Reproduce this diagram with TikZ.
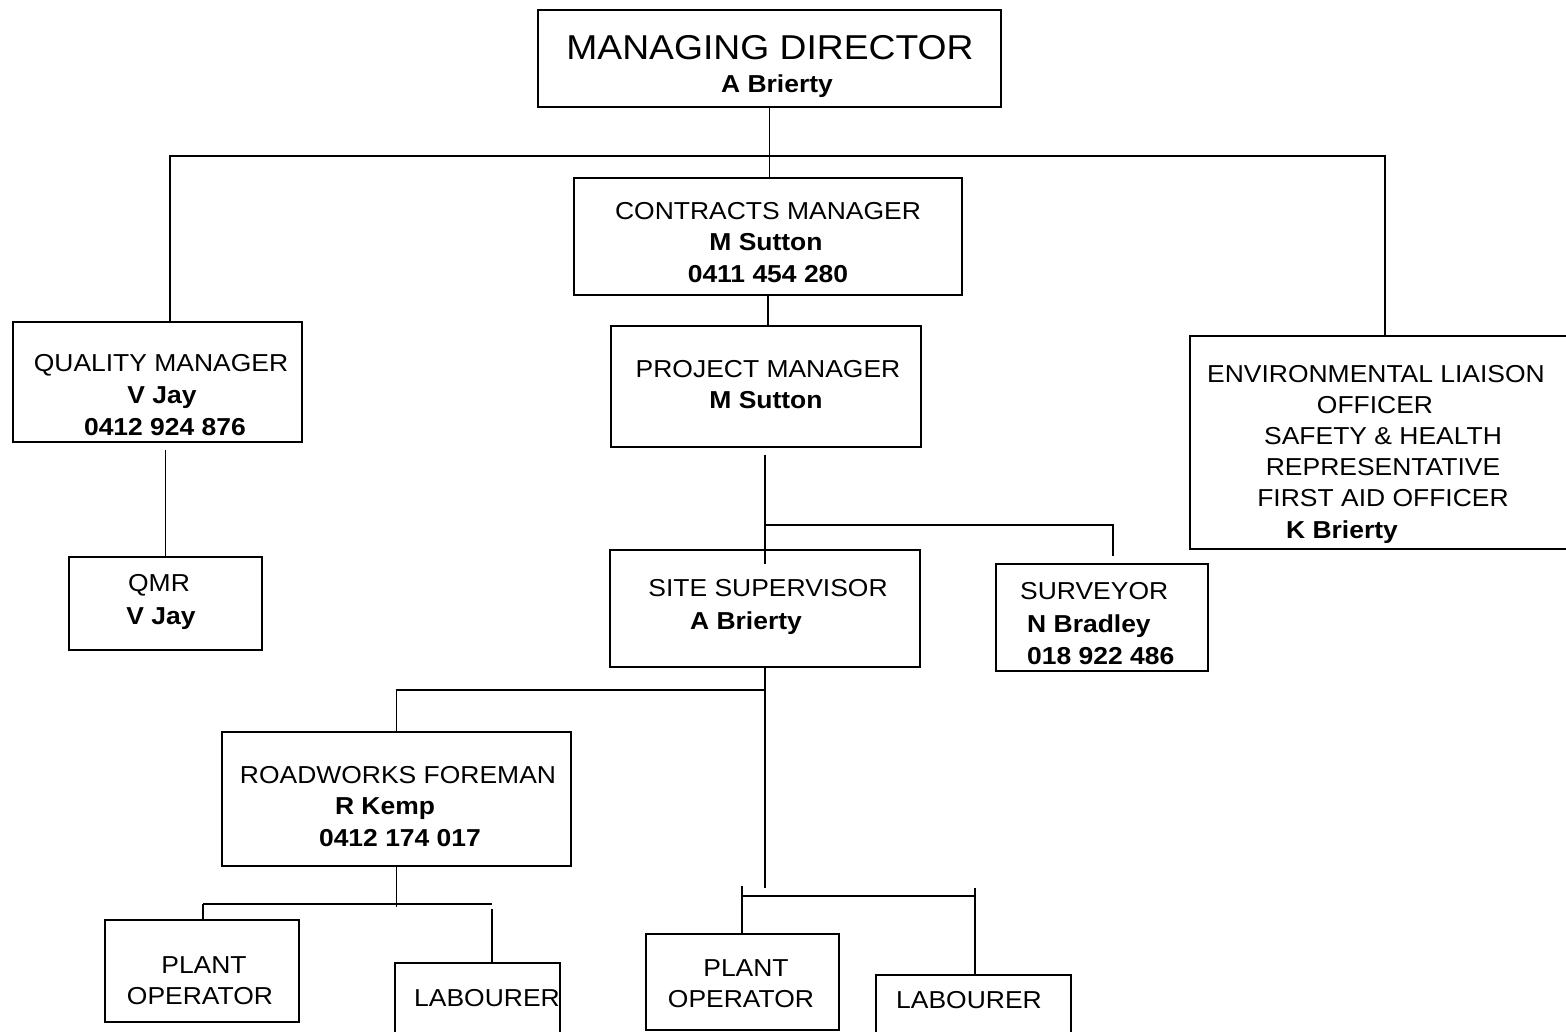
\documentclass[tikz,border=0pt]{standalone}
\usepackage{fontspec}
\setmainfont{Liberation Sans}[FakeStretch=1.08]
\begin{document}
\begin{tikzpicture}[x=1pt,y=-1pt,
  box/.style={draw, line width=1.3pt, rectangle, inner sep=0pt},
  conn/.style={line width=1.3pt},
  tx/.style={anchor=base, inner sep=0pt, font=\fontsize{24.5}{30}\selectfont},
  tb/.style={anchor=base, inner sep=0pt, font=\fontsize{24.5}{30}\selectfont\bfseries},
  txl/.style={tx, anchor=base west},
  tbl/.style={tb, anchor=base west}]
\useasboundingbox (0,0) rectangle (1566,1032);
\fill[white] (0,0) rectangle (1566,1032);
\clip (0,0) rectangle (1566,1032);

% boxes
\node[box, minimum width=463, minimum height=97] (md) at (769.5,58.5) {};
\node[box, minimum width=388, minimum height=117] (cm) at (768,236.5) {};
\node[box, minimum width=310, minimum height=121] (pm) at (766,386.5) {};
\node[box, minimum width=289, minimum height=120] (qm) at (157.5,382) {};
\node[box, minimum width=193, minimum height=93] (qmr) at (165.5,603.5) {};
\node[box, minimum width=390, minimum height=213] (elo) at (1385,442.5) {};
\node[box, minimum width=310, minimum height=117] (ss) at (765,608.5) {};
\node[box, minimum width=212, minimum height=107] (sur) at (1102,617.5) {};
\node[box, minimum width=349, minimum height=134] (rf) at (396.5,799) {};
\node[box, minimum width=194, minimum height=102] (po1) at (202,971) {};
\node[box, minimum width=165, minimum height=82] (lab1) at (477.5,1004) {};
\node[box, minimum width=193, minimum height=96] (po2) at (742.5,982) {};
\node[box, minimum width=195, minimum height=70] (lab2) at (973.5,1010) {};

% texts
\node[anchor=base, inner sep=0pt, font=\fontsize{34.5}{40}\selectfont] (mdt1) at (770,60) {MANAGING DIRECTOR};
\node[tb] (mdt2) at (777,93) {A Brierty};

\node[tx] (cmt1) at (768,220) {CONTRACTS MANAGER};
\node[tb] (cmt2) at (766,251) {M Sutton};
\node[tb] (cmt3) at (768,283) {0411 454 280};

\node[tx] (pmt1) at (768,377) {PROJECT MANAGER};
\node[tb] (pmt2) at (766,408) {M Sutton};

\node[tx] (qmt1) at (161,371) {QUALITY MANAGER};
\node[tb] (qmt2) at (162,403) {V Jay};
\node[tb] (qmt3) at (165,435) {0412 924 876};

\node[tx] (qmrt1) at (159,591) {QMR};
\node[tb] (qmrt2) at (161,624) {V Jay};

\node[tx] (elot1) at (1376,382) {ENVIRONMENTAL LIAISON};
\node[tx] (elot2) at (1375,413) {OFFICER};
\node[tx] (elot3) at (1383,444) {SAFETY \& HEALTH};
\node[tx] (elot4) at (1383,475) {REPRESENTATIVE};
\node[tx] (elot5) at (1383,506) {FIRST AID OFFICER};
\node[tb] (elot6) at (1342,538) {K Brierty};

\node[tx] (sst1) at (768,596) {SITE SUPERVISOR};
\node[tb] (sst2) at (746,629) {A Brierty};

\node[txl] (surt1) at (1020,599) {SURVEYOR};
\node[tbl] (surt2) at (1027,632) {N Bradley};
\node[tbl] (surt3) at (1027,664) {018 922 486};

\node[tx] (rft1) at (398,783) {ROADWORKS FOREMAN};
\node[tb] (rft2) at (385,814) {R Kemp};
\node[tb] (rft3) at (400,846) {0412 174 017};

\node[tx] (po1t1) at (204,973) {PLANT};
\node[tx] (po1t2) at (200,1004) {OPERATOR};
\node[tx] (lab1t) at (487,1006) {LABOURER};
\node[tx] (po2t1) at (746,976) {PLANT};
\node[tx] (po2t2) at (741,1007) {OPERATOR};
\node[tx] (lab2t) at (969,1008) {LABOURER};

% junction coordinates
\coordinate (jl) at (170,156);
\coordinate (jr) at (1385,156);
\coordinate (jb) at (765,525);
\coordinate (jsur) at (1113,525);
\coordinate (jss) at (765,690);
\coordinate (jssb) at (765,888);
\coordinate (jrl) at (203,904);
\coordinate (jrr) at (492,904);
\coordinate (jpl) at (742,896);
\coordinate (jpr) at (975,896);

% connectors
\draw[conn] (md.south) -- (md.south |- cm.north);
\draw[conn] (qm.north -| jl) -- (jl) -- (jr) -- (elo.north);
\draw[conn] (cm.south) -- (cm.south |- pm.north);
\draw[conn, shorten <=7pt] (qm.south -| qmr.north) -- (qmr.north);
\draw[conn, shorten <=7pt, shorten >=-15pt] (pm.south -| ss.north) -- (ss.north);
\draw[conn, shorten >=7pt] (jb) -- (jsur) -- (jsur |- sur.north);
\draw[conn] (ss.south) -- (jss) -- (jss -| rf.north) -- (rf.north);
\draw[conn] (jss) -- (jssb);
\draw[conn, shorten >=-3pt] (rf.south) -- (rf.south |- jrl);
\draw[conn] (jrl) -- (jrr);
\draw[conn] (jrl) -- (jrl |- po1.north);
\draw[conn, shorten <=5pt] (jrr) -- (jrr |- lab1.north);
\draw[conn] (jpl) -- (jpr);
\draw[conn, shorten <=-10pt] (jpl) -- (jpl |- po2.north);
\draw[conn, shorten <=-8pt] (jpr) -- (jpr |- lab2.north);
\end{tikzpicture}
\end{document}
